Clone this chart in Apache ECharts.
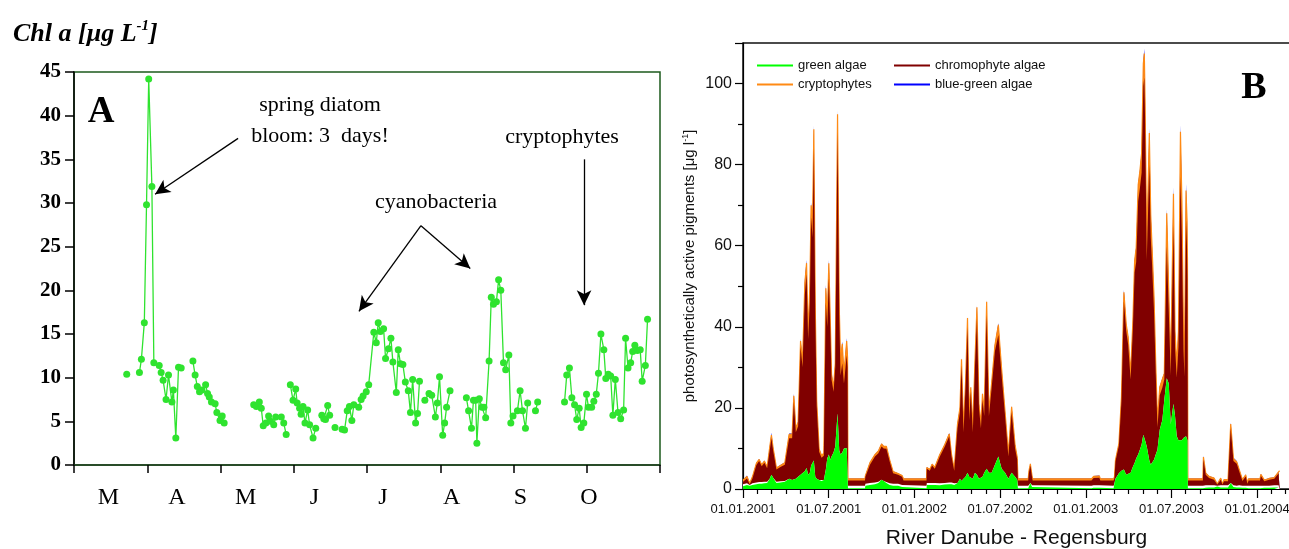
<!DOCTYPE html>
<html>
<head>
<meta charset="utf-8">
<script src="https://cdn.jsdelivr.net/npm/echarts@6.0.0/dist/echarts.min.js"></script>
<style>
  html, body { margin: 0; background: #fff; }
  #chart { width: 1289px; height: 549px; }
</style>
</head>
<body>
<div id="chart"></div>
<script>
// Panel A: Chl a, x = days since 1 March (30-day months), null = gap in the record
const monthLabelsA = ['M', 'A', 'M', 'J', 'J', 'A', 'S', 'O'];
const daysA = [
  21.6, null,
  26.8, 27.6, 28.8, 29.7, 30.6, 31.9, 32.7, 34.9, 35.7, 36.5, 37.7, 38.7, 40.1, 40.7, 41.7, 42.8, 43.9, null,
  48.7, 49.6, 50.5, 51.4, 52.4, 53.9, 54.7, 55.4, 56.3, 57.8, 58.5, 59.8, 60.7, 61.5, null,
  73.6, 74.7, 75.9, 76.7, 77.5, 78.6, 79.7, 80.5, 81.8, 82.6, 84.9, 85.9, 86.9, null,
  88.6, 89.7, 90.8, 91.4, 92.4, 93.0, 93.8, 94.6, 95.7, 96.5, 97.9, 99.0, null,
  101.5, 102.3, 103.0, 103.9, 104.7, null,
  106.9, null,
  109.8, 110.8, 111.9, 112.8, 113.8, 114.6, 116.6, 117.6, 118.4, 119.7, 120.7, 122.8, 123.8, 124.6, 125.5,
  126.8, 127.6, 128.8, 129.8, 130.6, 132.0, 132.8, 133.7, 134.7, 135.7, 136.9, 137.8, 138.7, 139.9, 140.7, 141.5, null,
  143.7, 145.4, 146.5, 148.0, 148.8, 149.7, 151.0, 151.8, 152.6, 154.0, null,
  160.7, 161.6, 162.8, 163.6, 164.5, 165.0, 166.0, 167.1, 167.9, 168.6, 170.0, 170.9, 171.8, 173.0, 173.9,
  174.8, 175.9, 176.8, 178.1, 178.9, 179.8, 181.6, 182.7, 183.7, 184.9, 185.8, null,
  189.0, 189.9, null,
  200.9, 201.8, 202.9, 203.9, 205.0, 205.9, 206.9, 207.7, 208.8, 209.9, 210.7, 212.0, 212.9, 213.9, 214.8,
  215.8, 217.0, 217.8, 218.8, 219.8, 220.7, 221.7, 222.8, 223.9, 225.1, 225.9, 226.9, 228.0, 228.8, 229.7,
  230.7, 231.9, 232.7, 234.0, 234.9
];
const chlA = [
  10.4, null,
  10.6, 12.1, 16.3, 29.8, 44.2, 31.9, 11.7, 11.4, 10.6, 9.7, 7.5, 10.3, 7.2, 8.6, 3.1, 11.2, 11.1, null,
  11.9, 10.3, 9.0, 8.4, 8.6, 9.2, 8.2, 7.8, 7.2, 7.0, 6.0, 5.1, 5.6, 4.8, null,
  6.9, 6.7, 7.2, 6.5, 4.5, 4.8, 5.6, 5.0, 4.6, 5.5, 5.5, 4.8, 3.5, null,
  9.2, 7.4, 8.7, 7.1, 6.5, 5.8, 6.7, 4.8, 6.3, 4.6, 3.1, 4.2, null,
  5.7, 5.3, 5.2, 6.8, 5.7, null,
  4.3, null,
  4.1, 4.0, 6.2, 6.7, 5.1, 6.9, 6.6, 7.5, 7.9, 8.4, 9.2, 15.2, 14.0, 16.3, 15.3,
  15.6, 12.2, 13.3, 14.5, 11.8, 8.3, 13.2, 11.6, 11.5, 9.5, 8.5, 6.0, 9.8, 4.8, 5.9, 9.6, null,
  7.4, 8.2, 8.0, 5.5, 7.1, 10.1, 3.4, 4.8, 6.6, 8.5, null,
  7.7, 6.2, 4.2, 7.4, 7.4, 2.5, 7.6, 6.6, 6.6, 5.4, 11.9, 19.2, 18.4, 18.7, 21.2,
  20.0, 11.7, 10.9, 12.6, 4.8, 5.6, 6.2, 8.5, 6.2, 4.2, 7.1, null,
  6.2, 7.2, null,
  7.2, 10.3, 11.1, 7.7, 6.9, 5.2, 6.5, 4.3, 4.8, 8.1, 6.6, 6.6, 7.3, 8.1, 10.5,
  15.0, 13.2, 9.9, 10.4, 10.2, 5.7, 9.8, 6.0, 5.3, 6.3, 14.5, 11.1, 11.7, 13.0, 13.7,
  13.1, 13.2, 9.6, 11.4, 16.7
];
// annotation arrows [from, to] in panel A data units
const arrowsA = [
  [[67.2, 37.4], [33.2, 31.0]],
  [[142.1, 27.4], [116.7, 17.6]],
  [[142.1, 27.4], [162.3, 22.5]],
  [[208.9, 35.0], [208.9, 18.3]]
];

// Panel B: pigment layer thicknesses, x = months since 01.01.2001
const tickLabelsB = ['01.01.2001', '01.07.2001', '01.01.2002', '01.07.2002', '01.01.2003', '01.07.2003', '01.01.2004'];
const monthsB = [
  0.00, 0.28, 0.47, 0.66, 0.94, 1.13, 1.31, 1.50, 1.69, 1.87,
  1.99, 2.11, 2.34, 2.62, 2.93, 3.23, 3.44, 3.56, 3.70, 3.86,
  4.03, 4.17, 4.33, 4.45, 4.56, 4.68, 4.77, 4.87, 4.96, 5.06,
  5.16, 5.33, 5.50, 5.66, 5.80, 5.90, 6.01, 6.11, 6.20, 6.34,
  6.46, 6.62, 6.74, 6.83, 6.95, 7.07, 7.26, 7.32, 7.35, 8.54,
  8.57, 8.89, 9.24, 9.48, 9.70, 9.85, 10.04, 10.27, 10.51, 10.86,
  11.14, 11.24, 12.85, 12.87, 13.08, 13.24, 13.43, 13.78, 14.13, 14.44,
  14.60, 14.79, 15.02, 15.19, 15.30, 15.44, 15.58, 15.72, 15.84, 15.95,
  16.09, 16.24, 16.38, 16.52, 16.66, 16.77, 16.89, 17.06, 17.22, 17.41,
  17.64, 17.88, 18.11, 18.35, 18.58, 18.81, 19.05, 19.20, 19.25, 19.97,
  20.02, 20.12, 20.24, 20.28, 24.40, 24.55, 24.95, 25.02, 25.95, 26.01,
  26.08, 26.32, 26.50, 26.67, 26.83, 26.97, 27.14, 27.30, 27.42, 27.53,
  27.67, 27.79, 27.91, 28.03, 28.10, 28.15, 28.27, 28.45, 28.55, 28.64,
  28.78, 28.90, 29.02, 29.18, 29.36, 29.50, 29.67, 29.81, 29.95, 30.14,
  30.25, 30.37, 30.49, 30.63, 30.73, 30.84, 30.91, 31.02, 31.09, 31.12,
  31.15, 32.20, 32.24, 32.40, 32.63, 32.98, 33.21, 33.45, 33.57, 33.68,
  33.96, 34.15, 34.34, 34.57, 34.74, 34.97, 35.20, 35.32, 35.40, 36.20,
  36.26, 36.50, 36.84, 37.20, 37.50, 37.57
];
const greenB = [
  0.7, 1.0, 0.8, 1.0, 1.2, 1.3, 1.3, 1.4, 1.5, 2.5,
  3.5, 2.8, 1.5, 1.6, 1.8, 2.5, 2.2, 2.6, 2.5, 3.0,
  3.5, 3.3, 4.4, 5.2, 3.5, 4.0, 5.8, 5.5, 7.0, 3.0,
  2.5, 2.2, 2.0, 2.2, 4.8, 7.5, 8.5, 7.2, 8.0, 9.0,
  10.5, 18.7, 9.5, 8.5, 9.0, 10.0, 10.1, 10.0, 0.2, 0.2,
  0.8, 1.0, 1.2, 1.5, 2.3, 2.0, 1.5, 1.0, 0.8, 0.8,
  0.5, 0.2, 0.2, 1.0, 1.0, 1.0, 1.0, 0.9, 1.1, 1.2,
  1.2, 1.0, 1.5, 2.5, 2.0, 2.5, 3.0, 4.0, 3.0, 3.0,
  2.5, 4.0, 3.5, 2.5, 2.5, 3.0, 4.0, 5.0, 4.0, 4.0,
  6.0, 8.0, 5.0, 4.0, 2.5, 4.0, 3.0, 2.3, 0.2, 0.2,
  0.5, 1.5, 0.5, 0.2, 0.2, 0.3, 0.3, 0.2, 0.2, 1.5,
  2.5, 3.9, 4.5, 4.8, 3.5, 3.1, 4.0, 5.5, 6.4, 7.5,
  8.5, 9.7, 11.0, 13.4, 13.0, 12.0, 10.5, 7.0, 6.0, 6.5,
  7.2, 8.5, 9.7, 14.6, 17.0, 22.0, 27.3, 26.0, 16.0, 21.0,
  18.0, 13.0, 12.0, 11.7, 12.0, 12.6, 12.6, 13.0, 12.6, 12.0,
  0.2, 0.2, 0.3, 0.3, 0.4, 0.4, 0.6, 0.4, 0.4, 0.4,
  0.4, 1.5, 0.5, 0.4, 0.4, 0.3, 0.3, 0.3, 0.2, 0.2,
  0.3, 0.3, 0.3, 0.4, 0.4, 0.4
];
// unassigned white band between green and chromophyte layers
const gapB = [
  0.5, 0.4, 0.2, 0.4, 0.4, 0.4, 0.4, 0.4, 0.3, 0,
  0, 0, 0.3, 0.3, 0.2, 0, 0, 0, 0, 0,
  0, 0, 0, 0, 0, 0, 0, 0, 0, 0,
  0, 0, 0.2, 0, 0, 0, 0, 0, 0, 0,
  0, 0, 0, 0, 0, 0, 0, 0, 0.6, 0.6,
  0.5, 0.5, 0.4, 0.3, 0, 0, 0.2, 0.4, 0.5, 0.5,
  0.5, 0.6, 0.6, 0.5, 0.5, 0.5, 0.5, 0.5, 0.4, 0.4,
  0.4, 0.4, 0, 0, 0, 0, 0, 0, 0, 0,
  0, 0, 0, 0, 0, 0, 0, 0, 0, 0,
  0, 0, 0, 0, 0, 0, 0, 0, 0.6, 0.6,
  0.5, 0, 0.4, 0.6, 0.6, 0.6, 0.6, 0.6, 0.6, 0,
  0, 0, 0, 0, 0, 0, 0, 0, 0, 0,
  0, 0, 0, 0, 0, 0, 0, 0, 0, 0,
  0, 0, 0, 0, 0, 0, 0, 0, 0, 0,
  0, 0, 0, 0, 0, 0, 0, 0, 0, 0,
  0.6, 0.6, 0.6, 0.6, 0.5, 0.5, 0.2, 0.5, 0.4, 0.5,
  0.5, 0, 0.4, 0.4, 0.5, 0.5, 0.5, 0.4, 0.6, 0.6,
  0.6, 0.5, 0.5, 0.5, 0.5, 0.5
];
const chromoB = [
  0.6, 1.2, 0.2, 1.2, 4.3, 5.2, 3.9, 4.7, 3.3, 7.0,
  9.0, 6.7, 3.0, 3.5, 4.0, 10.0, 10.3, 18.9, 11.5, 12.5,
  31.5, 26.7, 43.6, 47.8, 33.5, 42.0, 61.2, 56.5, 77.0, 40.0,
  18.0, 7.0, 5.5, 6.0, 41.2, 32.5, 43.5, 32.8, 19.0, 15.0,
  19.5, 69.3, 33.5, 19.5, 22.0, 16.0, 22.9, 20.0, 1.3, 1.3,
  1.7, 4.5, 6.4, 7.0, 8.2, 8.0, 8.2, 5.4, 2.6, 2.2,
  2.0, 1.3, 1.3, 3.5, 3.0, 4.3, 3.5, 6.6, 9.0, 11.4,
  6.4, 3.1, 13.5, 16.5, 28.5, 11.5, 22.0, 36.0, 14.0, 21.0,
  11.5, 26.0, 38.5, 17.5, 12.5, 19.0, 14.0, 38.0, 14.0, 21.0,
  28.0, 30.0, 23.0, 14.0, 5.5, 15.0, 7.0, 5.0, 1.3, 1.3,
  3.0, 4.3, 2.0, 1.3, 1.3, 1.8, 1.9, 1.3, 1.3, 1.3,
  4.3, 6.8, 17.2, 41.5, 35.5, 32.5, 23.0, 34.0, 47.0, 48.5,
  62.5, 64.5, 67.0, 86.0, 88.5, 80.0, 46.0, 73.0, 56.0, 49.0,
  36.5, 20.0, 5.5, 8.5, 8.0, 5.0, 32.5, 18.0, 12.0, 44.0,
  17.0, 14.5, 23.0, 65.3, 50.0, 22.0, 15.0, 53.3, 47.0, 40.0,
  1.3, 1.3, 6.4, 2.6, 1.8, 1.4, 0.3, 1.4, 0.3, 1.0,
  1.0, 13.5, 6.0, 5.4, 3.5, 1.2, 2.3, 0.6, 1.3, 1.3,
  2.3, 1.1, 1.5, 1.6, 2.9, 3.2
];
const cryptoB = [
  0.4, 0.5, 0.2, 0.4, 0.5, 0.4, 0.4, 0.4, 0.3, 0.8,
  0.8, 0.6, 0.4, 0.4, 0.5, 1.0, 1.0, 1.5, 0.9, 1.0,
  1.5, 1.3, 2.8, 2.7, 1.0, 4.0, 3.0, 3.5, 4.7, 1.8,
  1.2, 0.7, 0.6, 0.6, 3.5, 2.0, 3.7, 2.0, 1.3, 1.0,
  1.0, 4.4, 1.8, 3.5, 4.8, 2.4, 3.5, 2.5, 0.4, 0.4,
  0.3, 0.5, 0.5, 0.6, 0.6, 0.5, 0.6, 0.4, 0.4, 0.3,
  0.3, 0.4, 0.4, 0.3, 0.3, 0.3, 0.4, 0.5, 0.5, 0.6,
  0.5, 0.4, 1.0, 1.0, 1.5, 1.0, 1.0, 2.2, 1.0, 1.1,
  1.0, 1.5, 2.8, 1.0, 1.0, 1.5, 1.0, 3.2, 1.0, 1.2,
  1.5, 2.5, 1.5, 1.0, 0.8, 1.3, 0.8, 0.5, 0.4, 0.4,
  0.4, 0.4, 0.3, 0.4, 0.4, 0.4, 0.4, 0.4, 0.4, 0.2,
  0.3, 0.5, 1.0, 2.2, 1.7, 1.8, 1.4, 2.0, 2.8, 3.5,
  4.0, 4.2, 4.8, 5.5, 5.9, 4.2, 3.0, 7.8, 5.6, 4.3,
  3.5, 2.3, 1.7, 2.0, 2.1, 1.5, 8.2, 4.5, 2.7, 7.8,
  3.8, 3.2, 3.8, 11.1, 9.0, 4.2, 3.1, 7.3, 6.7, 5.0,
  0.4, 0.4, 0.6, 0.4, 0.4, 0.4, 0.1, 0.4, 0.1, 0.4,
  0.4, 1.0, 0.6, 0.5, 0.4, 0.3, 0.4, 0.2, 0.4, 0.4,
  0.4, 0.3, 0.3, 0.3, 0.4, 0.4
];
const blueB = [
  0.1, 0.2, 0.1, 0.1, 0.1, 0.1, 0.1, 0.1, 0.1, 0.2,
  0.6, 0.2, 0.1, 0.1, 0.1, 0.2, 0.2, 0.5, 0.2, 0.2,
  0.5, 0.3, 0.8, 0.8, 0.2, 0.7, 0.6, 0.5, 1.0, 0.3,
  0.3, 0.1, 0.1, 0.1, 0.8, 0.5, 0.8, 0.5, 0.3, 0.2,
  0.3, 1.0, 0.3, 0.4, 0.6, 0.3, 0.7, 0.3, 0.1, 0.1,
  0.1, 0.1, 0.1, 0.1, 0.1, 0.1, 0.1, 0.1, 0.1, 0.1,
  0.1, 0.1, 0.1, 0.1, 0.1, 0.1, 0.1, 0.1, 0.1, 0.2,
  0.1, 0.1, 0.2, 0.2, 0.3, 0.2, 0.2, 0.3, 0.2, 0.2,
  0.2, 0.3, 0.4, 0.2, 0.2, 0.2, 0.2, 0.4, 0.2, 0.2,
  0.3, 0.4, 0.3, 0.2, 0.2, 0.2, 0.2, 0.1, 0.1, 0.1,
  0.1, 0.1, 0.1, 0.1, 0.1, 0.1, 0.1, 0.1, 0.1, 0.1,
  0.1, 0.1, 0.1, 0.6, 0.2, 0.2, 0.2, 0.2, 0.3, 0.3,
  0.4, 0.3, 0.4, 0.8, 1.2, 0.5, 0.2, 1.1, 0.4, 0.4,
  0.3, 0.2, 0.2, 0.2, 0.2, 0.2, 1.0, 0.5, 0.3, 1.6,
  0.4, 0.3, 0.4, 1.6, 1.0, 0.4, 0.3, 1.6, 0.7, 0.5,
  0.1, 0.1, 0.3, 0.1, 0.1, 0.1, 0.1, 0.1, 0.1, 0.1,
  0.1, 0.4, 0.2, 0.2, 0.1, 0.1, 0.1, 0.1, 0.1, 0.1,
  0.1, 0.1, 0.1, 0.1, 0.1, 0.1
];

const serif = '"Liberation Serif", "Times New Roman", serif';
const sans = '"Liberation Sans", Arial, sans-serif';

const chart = echarts.init(document.getElementById('chart'));

// layers bottom -> top; each area is drawn from 0 up to the running total,
// topmost first so lower layers paint over it
const layersB = [
  { name: 'green algae', values: greenB, color: '#00ff00', edge: 0 },
  { name: 'unassigned', values: gapB, color: '#ffffff', edge: 0 },
  { name: 'chromophyte algae', values: chromoB, color: '#800000', edge: 0 },
  { name: 'cryptophytes', values: cryptoB, color: '#ff8a14', edge: 1.2 },
  { name: 'blue-green algae', values: blueB, color: '#0000ff', edge: 0 }
];

const seriesB = layersB.map((layer, k) => ({
  name: layer.name,
  type: 'line',
  xAxisIndex: 2,
  yAxisIndex: 1,
  data: monthsB.map((m, i) => {
    let top = 0;
    for (let j = 0; j <= k; j++) top += layersB[j].values[i];
    return [m, Math.round(top * 100) / 100];
  }),
  symbol: 'none',
  showSymbol: false,
  lineStyle: { width: layer.edge, color: layer.color },
  itemStyle: { color: layer.color },
  areaStyle: { color: layer.color, opacity: 1, origin: 'start' },
  z: 2 + (layersB.length - k),
  silent: true
})).reverse();

const legendText = { fontFamily: sans, fontSize: 13, color: '#111' };

const options = {
  animation: false,
  title: {
    text: '{t|Chl a [μg L}{s|-1}{t|]}',
    left: 8,
    top: 14,
    textStyle: {
      rich: {
        t: { fontFamily: serif, fontStyle: 'italic', fontSize: 26, color: '#000', lineHeight: 30 },
        s: { fontFamily: serif, fontStyle: 'italic', fontSize: 15, color: '#000', verticalAlign: 'top', lineHeight: 30 }
      }
    }
  },
  legend: [
    {
      data: ['green algae', 'cryptophytes'],
      orient: 'vertical',
      left: 752,
      top: 54,
      itemWidth: 36,
      itemHeight: 2,
      itemGap: 6,
      icon: 'rect',
      textStyle: legendText,
      selectedMode: false
    },
    {
      data: ['chromophyte algae', 'blue-green algae'],
      orient: 'vertical',
      left: 889,
      top: 54,
      itemWidth: 36,
      itemHeight: 2,
      itemGap: 6,
      icon: 'rect',
      textStyle: legendText,
      selectedMode: false
    }
  ],
  grid: [
    {
      left: 74, top: 72, width: 586, height: 393,
      show: true, borderColor: '#1d5a1d', borderWidth: 1.5,
      outerBoundsMode: 'none'
    },
    {
      left: 743, top: 43, width: 547, height: 446,
      show: true, borderColor: '#111', borderWidth: 1.5,
      outerBoundsMode: 'none'
    }
  ],
  xAxis: [
    {
      gridIndex: 0, type: 'value', min: 0, max: 240, interval: 30,
      axisLine: { lineStyle: { color: '#1d3d1d', width: 1.5 } },
      axisTick: { length: 8, lineStyle: { color: '#000', width: 1.5 } },
      axisLabel: { show: false },
      splitLine: { show: false }
    },
    {
      gridIndex: 0, type: 'value', min: -15, max: 241, interval: 15, position: 'bottom',
      axisLine: { show: false },
      axisTick: { show: false },
      splitLine: { show: false },
      axisLabel: {
        margin: 21,
        fontFamily: serif, fontSize: 24, color: '#000',
        formatter: v => (v >= 0 && v % 30 === 0 && monthLabelsA[v / 30]) || ''
      }
    },
    {
      gridIndex: 1, type: 'value', min: 0, max: 38.3, interval: 6,
      axisLine: { lineStyle: { color: '#000', width: 1.2 } },
      axisTick: { length: 9, lineStyle: { color: '#000', width: 1.2 } },
      minorTick: { show: true, splitNumber: 6, length: 5, lineStyle: { color: '#000', width: 1.2 } },
      splitLine: { show: false },
      minorSplitLine: { show: false },
      axisLabel: {
        margin: 14,
        fontFamily: sans, fontSize: 13, color: '#111',
        formatter: v => (Number.isInteger(v) && v % 6 === 0 && tickLabelsB[v / 6]) || ''
      },
      name: 'River Danube - Regensburg',
      nameLocation: 'middle',
      nameGap: 39,
      nameTextStyle: { fontFamily: sans, fontSize: 21, color: '#111' }
    }
  ],
  yAxis: [
    {
      gridIndex: 0, type: 'value', min: 0, max: 45, interval: 5,
      axisLine: { show: true, lineStyle: { color: '#000', width: 1.5 } },
      axisTick: { show: true, length: 9, lineStyle: { color: '#000', width: 1.5 } },
      splitLine: { show: false },
      axisLabel: { margin: 13, fontFamily: serif, fontWeight: 'bold', fontSize: 21, color: '#000' }
    },
    {
      gridIndex: 1, type: 'value', min: 0, max: 110, interval: 20,
      axisLine: { show: true, lineStyle: { color: '#000', width: 1.2 } },
      axisTick: { show: true, length: 8, lineStyle: { color: '#000', width: 1.2 } },
      minorTick: { show: true, splitNumber: 2, length: 5, lineStyle: { color: '#000', width: 1.2 } },
      splitLine: { show: false },
      minorSplitLine: { show: false },
      axisLabel: {
        margin: 11,
        fontFamily: sans, fontSize: 16, color: '#111',
        formatter: v => (v % 20 === 0 ? String(v) : '')
      },
      name: '{a|photosynthetically active pigments [μg l}{s|-1}{a|]}',
      nameLocation: 'middle',
      nameGap: 44,
      nameTextStyle: {
        rich: {
          a: { fontFamily: sans, fontSize: 15, color: '#111', lineHeight: 18 },
          s: { fontFamily: sans, fontSize: 9, color: '#111', verticalAlign: 'top', lineHeight: 18 }
        }
      }
    }
  ],
  series: [
    {
      name: 'Chl a',
      type: 'line',
      xAxisIndex: 0,
      yAxisIndex: 0,
      data: daysA.map((d, i) => (d === null ? ['-', '-'] : [d, chlA[i]])),
      connectNulls: false,
      symbol: 'circle',
      symbolSize: 7,
      itemStyle: { color: '#2fe32f' },
      lineStyle: { color: '#2fe32f', width: 1.3 },
      silent: true,
      markLine: {
        silent: true,
        symbol: ['none', 'arrow'],
        symbolSize: [11, 15],
        label: { show: false },
        lineStyle: { color: '#000', width: 1.3, type: 'solid' },
        emphasis: { disabled: true },
        data: arrowsA.map(a => [{ coord: a[0] }, { coord: a[1] }])
      }
    }
  ].concat(seriesB),
  graphic: [
    { type: 'text', x: 101, y: 112, style: { text: 'A', font: 'bold 37px ' + serif, fill: '#000', align: 'center', verticalAlign: 'middle' } },
    { type: 'text', x: 320, y: 105, style: { text: 'spring diatom', font: '22px ' + serif, fill: '#000', align: 'center', verticalAlign: 'middle' } },
    { type: 'text', x: 320, y: 136, style: { text: 'bloom: 3  days!', font: '22px ' + serif, fill: '#000', align: 'center', verticalAlign: 'middle' } },
    { type: 'text', x: 436, y: 202, style: { text: 'cyanobacteria', font: '22px ' + serif, fill: '#000', align: 'center', verticalAlign: 'middle' } },
    { type: 'text', x: 562, y: 137, style: { text: 'cryptophytes', font: '22px ' + serif, fill: '#000', align: 'center', verticalAlign: 'middle' } },
    { type: 'text', x: 1254, y: 88, style: { text: 'B', font: 'bold 38px ' + serif, fill: '#000', align: 'center', verticalAlign: 'middle' } }
  ]
};

chart.setOption(options);
</script>
</body>
</html>
